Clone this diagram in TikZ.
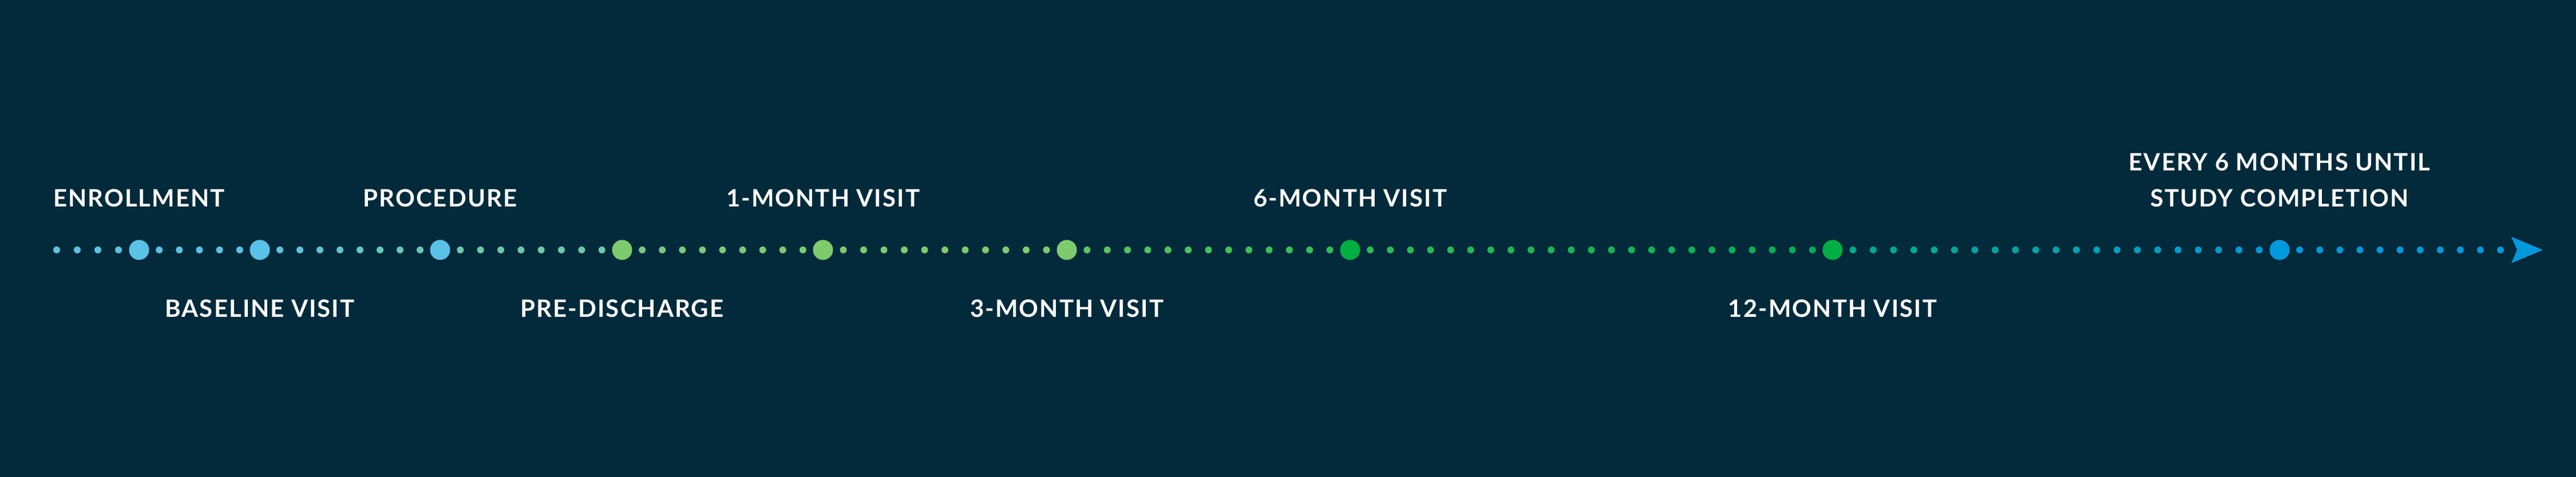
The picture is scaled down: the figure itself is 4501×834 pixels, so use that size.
\documentclass[tikz,border=0pt]{standalone}
\usepackage{fontspec}
\setmainfont{Lato}[LetterSpace=5]
\usepackage{tikz}
\usetikzlibrary{positioning,calc}

\definecolor{bgnavy}{HTML}{022A3B}
\definecolor{skyblue}{HTML}{5BC2E7}
\definecolor{seafoam}{HTML}{6CC9A9}
\definecolor{palegreen}{HTML}{7DCB6D}
\definecolor{midgreen}{HTML}{2DBE55}
\definecolor{deepgreen}{HTML}{00AE42}
\definecolor{tealdot}{HTML}{00AB86}
\definecolor{oceanblue}{HTML}{0099DC}

% small dots between two milestones: from, to, count, colour in, colour out
\newcommand{\dotrun}[5]{%
    \foreach \i in {1,...,#3}{
        \pgfmathsetmacro{\dotpos}{\i/(#3+1)}
        \pgfmathsetmacro{\dotmix}{100*\i/(#3+1)}
        \fill[#5!\dotmix!#4] ($(#1)!\dotpos!(#2)$) circle[radius=0.06cm];
    }}

\begin{document}
\begin{tikzpicture}[x=0.01cm,y=0.01cm,
      bigdot/.style={circle,inner sep=0pt,minimum size=0.35cm},
      toplab/.style={font=\bfseries\fontsize{11.9}{17.9}\selectfont,text=white,inner sep=0pt,text depth=0pt},
      botlab/.style={toplab,text height=8.5pt}]
    \fill[bgnavy] (0,0) rectangle (4501,834);

    \coordinate (start) at (99,397);
    \node[bigdot,fill=skyblue] (enr) at (243,397) {};
    \node[bigdot,fill=skyblue] (bas) at (454,397) {};
    \node[bigdot,fill=skyblue] (proc) at (769,397) {};
    \node[bigdot,fill=palegreen] (pre) at (1087,397) {};
    \node[bigdot,fill=palegreen] (mone) at (1438,397) {};
    \node[bigdot,fill=palegreen] (mthree) at (1864,397) {};
    \node[bigdot,fill=deepgreen] (msix) at (2359,397) {};
    \node[bigdot,fill=deepgreen] (mtwelve) at (3202,397) {};
    \node[bigdot,fill=oceanblue] (fin) at (3983,397) {};
    \coordinate (tail) at (4369,397);
    \coordinate (tip) at (4443,397);

    \fill[skyblue] (start) circle[radius=0.06cm];
    \dotrun{start}{enr}{3}{skyblue}{skyblue}
    \dotrun{enr}{bas}{5}{skyblue}{skyblue}
    \dotrun{bas}{proc}{8}{skyblue}{seafoam}
    \dotrun{proc}{pre}{8}{seafoam}{seafoam}
    \dotrun{pre}{mone}{9}{seafoam!40!palegreen}{palegreen}
    \dotrun{mone}{mthree}{11}{palegreen}{palegreen}
    \dotrun{mthree}{msix}{13}{palegreen!60!midgreen}{midgreen}
    \dotrun{msix}{mtwelve}{23}{midgreen}{deepgreen!70!tealdot}
    \dotrun{mtwelve}{fin}{21}{tealdot}{oceanblue}
    \dotrun{fin}{tail}{10}{oceanblue}{oceanblue}
    \fill[oceanblue] (tail) circle[radius=0.06cm];
    \fill[oceanblue] (tip) -- ++(-55,23) -- ++(10,-23) -- ++(-10,-23) -- cycle;

    \node[toplab,above=0.565cm of enr] (tenr) {ENROLLMENT};
    \node[botlab,below=0.685cm of bas] (tbas) {BASELINE VISIT};
    \node[toplab,above=0.565cm of proc] (tproc) {PROCEDURE};
    \node[botlab,below=0.685cm of pre] (tpre) {PRE-DISCHARGE};
    \node[toplab,above=0.565cm of mone] (tmone) {1-MONTH VISIT};
    \node[botlab,below=0.685cm of mthree] (tmthree) {3-MONTH VISIT};
    \node[toplab,above=0.565cm of msix] (tmsix) {6-MONTH VISIT};
    \node[botlab,below=0.685cm of mtwelve] (tmtwelve) {12-MONTH VISIT};
    \node[toplab,align=center,above=0.565cm of fin] (tfin) {EVERY 6 MONTHS UNTIL\\STUDY COMPLETION};
\end{tikzpicture}
\end{document}
